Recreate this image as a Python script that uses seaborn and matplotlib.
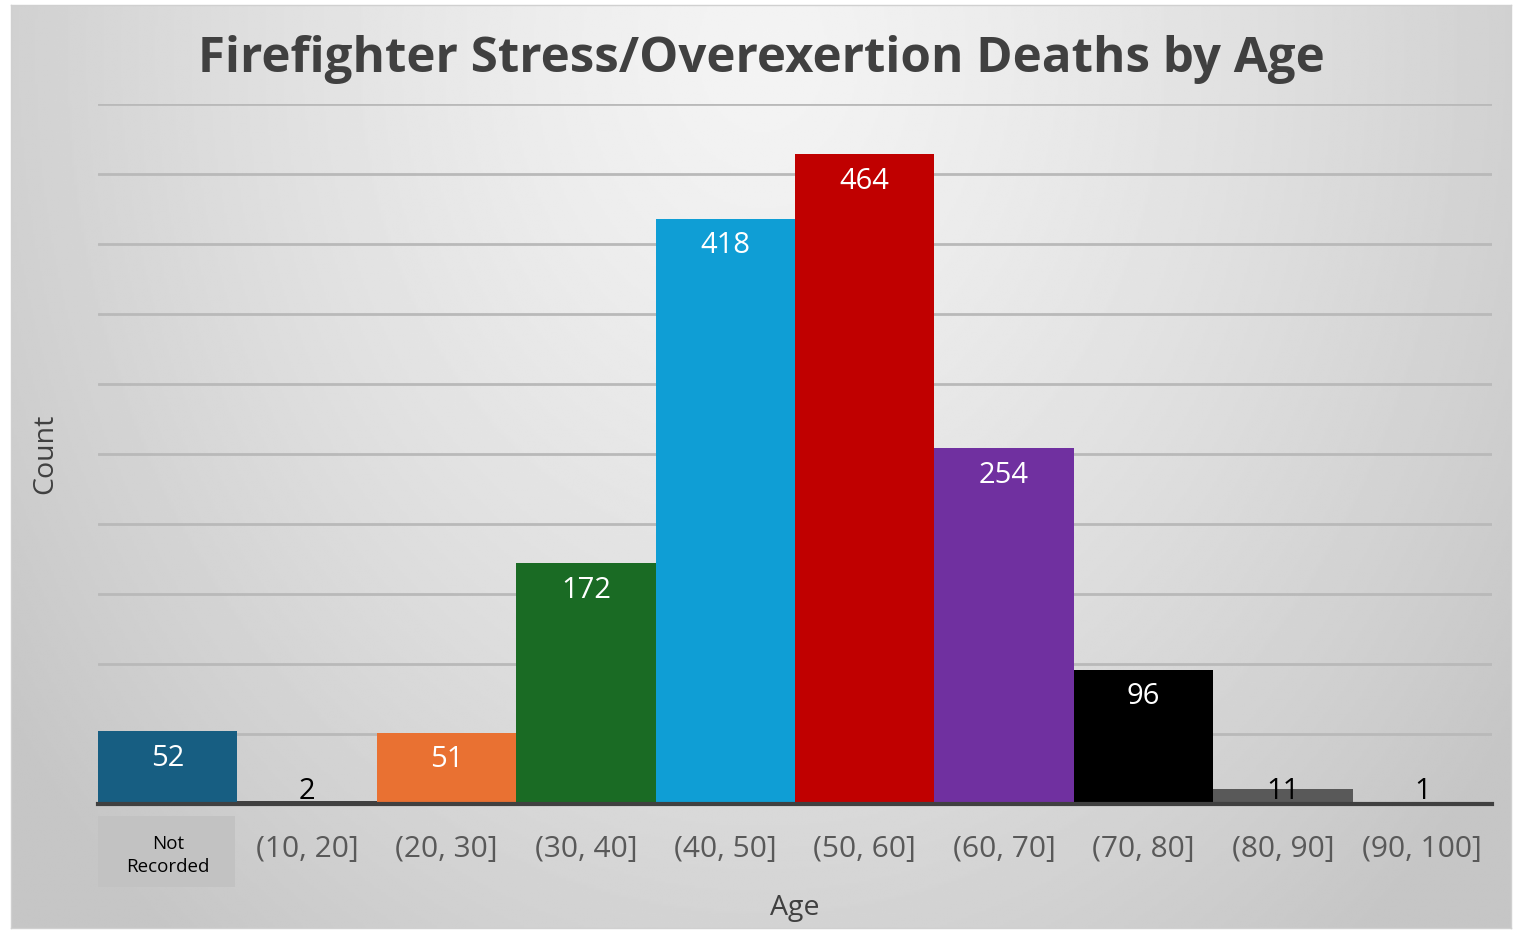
import numpy as np
import pandas as pd
import matplotlib
matplotlib.use("Agg")
import matplotlib.pyplot as plt
import matplotlib.transforms as mtransforms
from matplotlib.patches import Rectangle
import seaborn as sns

categories = ["Not\nRecorded", "(10, 20]", "(20, 30]", "(30, 40]", "(40, 50]",
              "(50, 60]", "(60, 70]", "(70, 80]", "(80, 90]", "(90, 100]"]
counts = [52, 2, 51, 172, 418, 464, 254, 96, 11, 1]
bar_colors = ["#175e82", "#404040", "#e97132", "#1a6b24", "#0f9ed5",
              "#c00000", "#7030a0", "#000000", "#595959", "#404040"]
title = "Firefighter Stress/Overexertion Deaths by Age"

sns.set_theme(style="white")
plt.rcParams['font.family'] = ['Open Sans', 'DejaVu Sans']

fig = plt.figure(figsize=(15.19, 9.30), dpi=100)
fig.patch.set_facecolor("white")

# framed gradient background
L, R = 11 / 1519, 1511 / 1519
B, T = 1 - 928 / 930, 1 - 5 / 930
bg = fig.add_axes([L, B, R - L, T - B], zorder=0)
ny, nx = 400, 650
yy, xx = np.mgrid[0:ny, 0:nx]
cx, cy = nx * 0.5, ny * 0.05
d = np.sqrt(((xx - cx) / (nx * 0.62)) ** 2 + ((yy - cy) / (ny * 1.25)) ** 2)
d = np.clip(d, 0, 1)
light, dark = 0.955, 0.775
img = light - (light - dark) * d ** 1.3
bg.imshow(img, cmap="gray", vmin=0, vmax=1, aspect="auto", interpolation="bilinear",
          extent=[0, 1, 0, 1])
bg.set_xlim(0, 1); bg.set_ylim(0, 1)
bg.set_xticks([]); bg.set_yticks([])
for s in bg.spines.values():
    s.set_color("#d0d0d0"); s.set_linewidth(1.0)

ax = fig.add_axes([98 / 1519, 1 - 804 / 930, (1492 - 98) / 1519, 700 / 930], zorder=1)
ax.patch.set_alpha(0)

df = pd.DataFrame({"Age": categories, "Count": counts})
sns.barplot(data=df, x="Age", y="Count", hue="Age", palette=bar_colors,
            width=1.0, legend=False, ax=ax, saturation=1, linewidth=0, zorder=3)

ax.set_ylim(0, 500)
ax.set_xlim(-0.5, len(categories) - 0.5)
ax.set_yticks(np.arange(50, 501, 50))
ax.yaxis.grid(True, color="#b9b9b9", linewidth=2.0)
ax.set_axisbelow(True)
ax.tick_params(axis="y", left=False, labelleft=False)
ax.tick_params(axis="x", bottom=False, pad=16, labelsize=21.5, labelcolor="#595959")
for side in ["top", "right", "left"]:
    ax.spines[side].set_visible(False)
ax.spines["bottom"].set_color("#404040")
ax.spines["bottom"].set_linewidth(3)
ax.spines["bottom"].set_zorder(5)

# "Not Recorded" label styling
lbl0 = ax.get_xticklabels()[0]
lbl0.set_fontsize(13.5)
lbl0.set_color("#000000")
lbl0.set_linespacing(1.4)
trans = mtransforms.blended_transform_factory(ax.transData, ax.transAxes)
ax.add_patch(Rectangle((-0.5, -0.1186), 0.98, 0.1015, transform=trans,
                       facecolor="#c2c2c2", edgecolor="none", clip_on=False, zorder=0))

# value labels
for i, v in enumerate(counts):
    if v >= 30:
        ax.annotate(str(v), (i, v), xytext=(0, -19.5), textcoords="offset points",
                    ha="center", va="center", color="white", fontsize=21, zorder=6)
    else:
        ax.annotate(str(v), (i, 0), xytext=(0, -1.5), textcoords="offset points",
                    ha="center", va="bottom", color="black", fontsize=21, zorder=6)

ax.set_xlabel("Age", fontsize=20.5, color="#404040", labelpad=13)
ax.set_ylabel("")
fig.text(45 / 1519, 1 - 454 / 930, "Count", rotation=90, fontsize=20.5,
         color="#404040", ha="center", va="center")

fig.text(761 / 1519, 1 - 60 / 930, title, fontsize=35.5, fontweight="bold",
         color="#404040", ha="center", va="center")

fig.savefig("out.png", dpi=100, facecolor=fig.get_facecolor())
